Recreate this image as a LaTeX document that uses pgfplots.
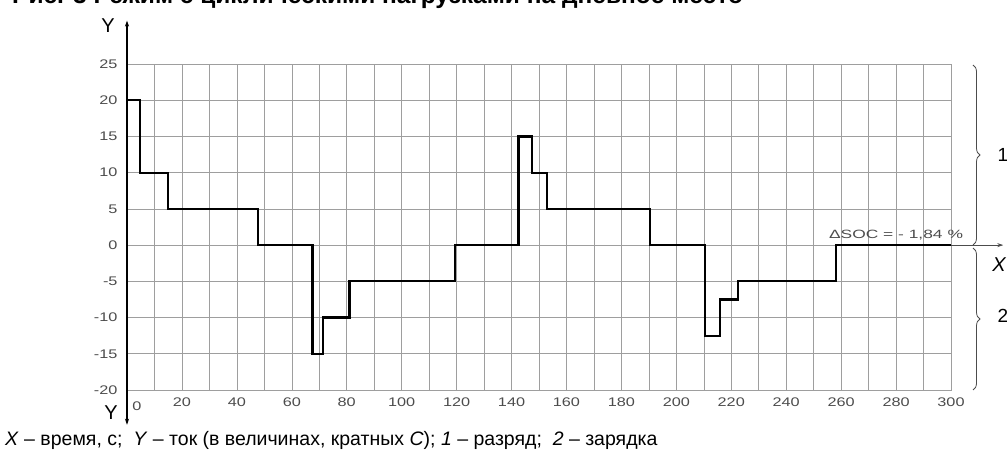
\documentclass[border=0pt]{standalone}
\usepackage{fontspec}
\setmainfont{Liberation Sans}
\usepackage{pgfplots}
\pgfplotsset{compat=1.18}
\usetikzlibrary{decorations.pathreplacing,arrows.meta}
\definecolor{gridc}{gray}{0.62}
\definecolor{tickc}{gray}{0.3}
\begin{document}
\begin{tikzpicture}[x=1pt,y=1pt]
\clip (0,0) rectangle (1007,452);
\begin{axis}[
  at={(127pt,62pt)}, anchor=south west, scale only axis,
  width=824pt, height=326pt,
  xmin=0, xmax=300, ymin=-20, ymax=25,
  xtick={20,40,...,300}, minor xtick={10,30,...,290},
  ytick={-20,-15,...,25},
  grid=both,
  major grid style={gridc, line width=0.6pt},
  minor grid style={gridc, line width=0.6pt},
  axis line style={gridc, line width=0.6pt},
  tick style={draw=none},
  /pgf/number format/assume math mode=true,
  xticklabel={\scalebox{1.3}[1]{\pgfmathprintnumber{\tick}}},
  yticklabel={\scalebox{1.3}[1]{\pgfmathprintnumber{\tick}}},
  ticklabel style={font=\fontsize{12.5}{12.5}\selectfont, text=tickc},
  yticklabel style={xshift=-6pt},
  xticklabel style={yshift=-4pt},
  clip=false,
]
\addplot[const plot, black, line width=2.2pt] coordinates {
  (0,20) (4.7,10) (15,5) (47.7,0) (67.5,-15) (71.5,-10) (81,-5)
  (119.5,0) (142.5,15) (147.5,10) (153,5) (190.5,0) (210.5,-12.5)
  (216,-7.5) (222.5,-5) (258,0) (300,0)
};
\draw[black, line width=1.3pt, {Stealth[length=6pt,width=4pt]}-{Stealth[length=6pt,width=4pt]}] (axis cs:0,-24.8) -- (axis cs:0,31);
\draw[gray!60!black, line width=0.7pt, -{Stealth[length=6pt,width=4pt]}] (axis cs:300,0) -- (axis cs:319,0);
\end{axis}
% title (cut off at the top, as in the reference)
\node[anchor=base west, inner sep=0, font=\fontsize{24.5}{24.5}\selectfont\bfseries] at (12,448) {Рис. 3 Режим с циклическими нагрузками на дневное место};
% axis letters
\node[font=\fontsize{20}{20}\selectfont] at (108,426) {Y};
\node[font=\fontsize{20}{20}\selectfont] at (111,39) {Y};
\node[font=\fontsize{20}{20}\selectfont\itshape] at (999,187) {X};
\node[font=\fontsize{12.5}{12.5}\selectfont, text=tickc] at (137,46) {\scalebox{1.3}[1]{0}};
% delta SOC
\node[text=tickc] at (896,217) {\scalebox{1.45}[1]{\fontsize{12}{12}\selectfont ΔSOC = - 1,84 \%}};
% braces
\draw[gray!60!black, line width=0.8pt, decorate, decoration={brace, amplitude=7pt}] (973,387) -- (973,207);
\draw[gray!60!black, line width=0.8pt, decorate, decoration={brace, amplitude=7pt}] (973,204) -- (973,62);
\node[font=\fontsize{19}{19}\selectfont] at (1003,297) {1};
\node[font=\fontsize{19}{19}\selectfont] at (1003,136) {2};
% caption
\node[anchor=base west, inner sep=0, font=\fontsize{19.5}{19.5}\selectfont] at (5,6) {\textit{X} – время, с;\ \ \textit{Y} – ток (в величинах, кратных \textit{C}); \textit{1} – разряд;\ \ \textit{2} – зарядка};
\end{tikzpicture}
\end{document}
